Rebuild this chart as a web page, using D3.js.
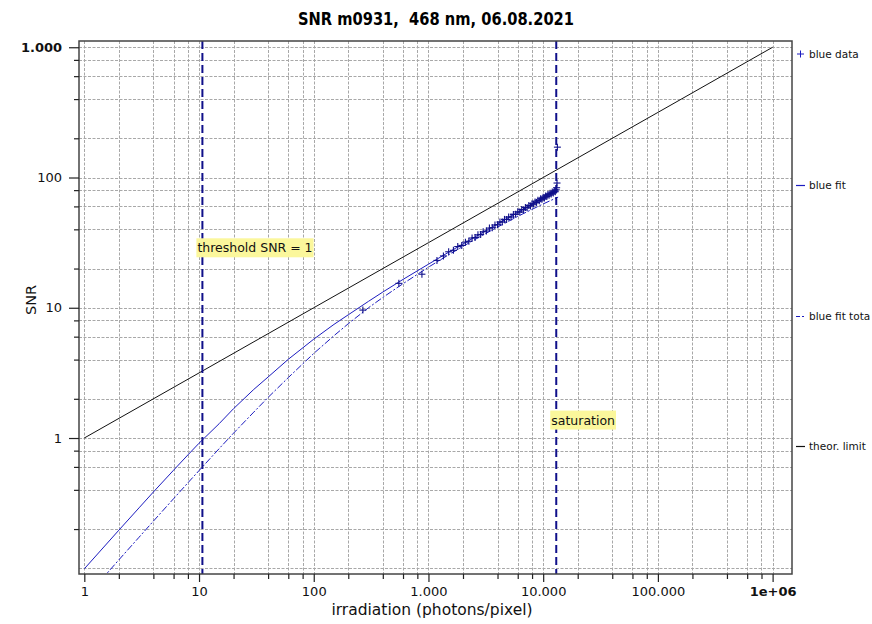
<!DOCTYPE html>
<html>
<head>
<meta charset="utf-8">
<script src="https://cdn.jsdelivr.net/npm/d3@7"></script>
<style>
  body { margin: 0; background: #fff; }
  svg { display: block; font-family: "DejaVu Sans", Verdana, sans-serif; }
</style>
</head>
<body>
<svg id="chart" width="872" height="624"></svg>
<script>
// ---- data ----
const titleText = "SNR m0931,  468 nm, 06.08.2021";

// measured points (irradiation, SNR)
const dataX = [268, 552, 877, 1186, 1350, 1500, 1650, 1800, 1950, 2100, 2250, 2400, 2550, 2700,
  2850, 3000, 3200, 3400, 3600, 3800, 4000, 4200, 4400, 4600, 4800, 5000, 5250, 5500, 5750,
  6000, 6250, 6500, 6750, 7000, 7250, 7500, 7750, 8000, 8250, 8500, 8750, 9000, 9250, 9500,
  9750, 10000, 10250, 10500, 10750, 11000, 11250, 11500, 11750, 12000, 12250, 12500, 12750,
  13000, 13100, 13200, 13300];
const dataY = [9.6, 15.4, 18.1, 23.1, 25.0, 26.9, 27.6, 29.5, 30.1, 31.9, 32.4, 34.3, 34.6, 36.3,
  36.5, 38.3, 38.8, 40.9, 41.2, 43.2, 43.4, 45.5, 45.6, 47.7, 47.6, 49.7, 49.8, 52.1, 52.2,
  54.5, 54.3, 56.8, 56.5, 58.8, 58.6, 61.0, 60.5, 62.9, 62.5, 65.0, 64.4, 66.8, 66.2, 68.7,
  68.0, 70.5, 69.7, 72.2, 71.4, 74.0, 73.1, 75.7, 74.8, 77.3, 76.2, 78.9, 77.8, 80.4, 83.5,
  90.7, 171];

// blue fit (solid)
const fitX = [1, 2, 3, 4, 6, 8, 10, 15, 20, 30, 40, 60, 100, 150, 200, 300, 400, 600, 1000,
  1500, 2000, 3000, 4000, 6000, 10000, 13500];
const fitY = [0.099, 0.196, 0.291, 0.385, 0.566, 0.742, 0.912, 1.29, 1.68, 2.36, 2.94, 4.02, 5.74,
  7.45, 8.83, 11.2, 13.2, 16.5, 21.6, 26.7, 30.9, 38.0, 44.0, 54.0, 69.8, 81.2];

// blue fit total (dash-dot)
const fitTotX = [1, 2, 3, 4, 6, 8, 10, 15, 20, 30, 40, 60, 100, 150, 200, 300, 400, 600, 1000,
  1500, 2000, 3000, 4000, 6000, 10000, 13500];
const fitTotY = [0.058, 0.116, 0.173, 0.230, 0.342, 0.453, 0.562, 0.83, 1.09, 1.58, 2.05, 2.91, 4.46,
  6.10, 7.54, 10.0, 12.0, 15.3, 20.5, 25.5, 29.6, 36.3, 41.6, 50.3, 62.7, 70.7];

// theoretical limit
const theoX = [1, 10, 100, 1000, 10000, 100000, 1000000];
const theoY = [1, 3.16, 10, 31.6, 100, 316, 1000];

// markers
const thresholdX = 10.7;
const saturationX = 13000;

const xMajor = [1, 10, 100, 1000, 10000, 100000, 1000000];
const xLabels = ["1", "10", "100", "1.000", "10.000", "100.000", "1e+06"];
const yMajor = [1, 10, 100, 1000];
const yLabels = ["1", "10", "100", "1.000"];
const minorMult = [2, 4, 6, 8];

const legendNames = ["blue data", "blue fit", "blue fit tota", "theor. limit"];

// ---- layout ----
const svg = d3.select("#chart");
const L = 79, R = 792, T = 41, B = 574;
const blue = "#1c1cc0", navy = "#10108a";

const x = d3.scaleLog().domain([Math.pow(10, -0.0463), Math.pow(10, 6.169)]).range([L, R]);
const y = d3.scaleLog().domain([Math.pow(10, -1.044), Math.pow(10, 3.048)]).range([B, T]);

function minors(majors) {
  const out = [];
  majors.forEach(m => minorMult.forEach(k => out.push(m * k)));
  return out;
}
const xMinor = minors([1, 10, 100, 1000, 10000, 100000]);
const yMinor = minors([0.1, 1, 10, 100]);

// grid
const grid = svg.append("g").attr("stroke", "#a8a8a8").attr("stroke-dasharray", "3,1.5").attr("stroke-width", 1);
xMajor.concat(xMinor).forEach(v => {
  grid.append("line").attr("x1", Math.round(x(v)) + 0.5).attr("x2", Math.round(x(v)) + 0.5).attr("y1", T).attr("y2", B);
});
[0.1].concat(yMajor, yMinor).forEach(v => {
  grid.append("line").attr("y1", Math.round(y(v)) + 0.5).attr("y2", Math.round(y(v)) + 0.5).attr("x1", L).attr("x2", R);
});

// clip
svg.append("clipPath").attr("id", "plot").append("rect")
  .attr("x", L).attr("y", T).attr("width", R - L).attr("height", B - T);
const plot = svg.append("g").attr("clip-path", "url(#plot)");

const line = d3.line().x(d => x(d[0])).y(d => y(d[1]));

plot.append("path").datum(theoX.map((v, i) => [v, theoY[i]]))
  .attr("d", line).attr("fill", "none").attr("stroke", "#111").attr("stroke-width", 1);
plot.append("path").datum(fitX.map((v, i) => [v, fitY[i]]))
  .attr("d", line).attr("fill", "none").attr("stroke", blue).attr("stroke-width", 1);
plot.append("path").datum(fitTotX.map((v, i) => [v, fitTotY[i]]))
  .attr("d", line).attr("fill", "none").attr("stroke", blue)
  .attr("stroke-width", 1).attr("stroke-dasharray", "7,2,2,2");

// data crosses
const pts = plot.append("g").attr("stroke", navy).attr("stroke-width", 1.1);
dataX.forEach((v, i) => {
  const cx = x(v), cy = y(dataY[i]);
  pts.append("line").attr("x1", cx - 3.5).attr("x2", cx + 3.5).attr("y1", cy).attr("y2", cy);
  pts.append("line").attr("x1", cx).attr("x2", cx).attr("y1", cy - 3.5).attr("y2", cy + 3.5);
});

// vertical markers
[thresholdX, saturationX].forEach(v => {
  plot.append("line").attr("x1", x(v)).attr("x2", x(v)).attr("y1", T).attr("y2", B)
    .attr("stroke", navy).attr("stroke-width", 2).attr("stroke-dasharray", "8,4");
});

// annotation labels
function note(xv, yv, txt) {
  const g = svg.append("g");
  const rect = g.append("rect").attr("fill", "#fbf79c");
  const t = g.append("text").attr("x", x(xv) - 5).attr("y", y(yv)).attr("dy", "0.35em")
    .attr("font-size", 12.5).attr("fill", "#111").text(txt);
  const bb = t.node().getBBox();
  rect.attr("x", bb.x - 1).attr("y", bb.y - 2).attr("width", bb.width + 2).attr("height", bb.height + 4);
}
note(thresholdX, 28.8, "threshold SNR = 1");
note(saturationX, 1.37, "saturation");

// frame
svg.append("rect").attr("x", L).attr("y", T).attr("width", R - L).attr("height", B - T)
  .attr("fill", "none").attr("stroke", "#444").attr("stroke-width", 1.5);

// axes
const fmtX = v => xLabels[xMajor.indexOf(v)];
const fmtY = v => yLabels[yMajor.indexOf(v)];
const xAx = svg.append("g").attr("transform", `translate(0,${B})`)
  .call(d3.axisBottom(x).tickValues(xMajor).tickFormat(fmtX).tickSize(8).tickPadding(5).tickSizeOuter(0));
svg.append("g").attr("transform", `translate(0,${B})`)
  .call(d3.axisBottom(x).tickValues(xMinor).tickFormat("").tickSize(5).tickSizeOuter(0));
const yAx = svg.append("g").attr("transform", `translate(${L},0)`)
  .call(d3.axisLeft(y).tickValues(yMajor).tickFormat(fmtY).tickSize(10).tickSizeOuter(0));
svg.append("g").attr("transform", `translate(${L},0)`)
  .call(d3.axisLeft(y).tickValues(yMinor).tickFormat("").tickSize(5).tickSizeOuter(0));
svg.selectAll(".domain").remove();
svg.selectAll(".tick line").attr("stroke", "#222").attr("stroke-width", 1.2);
xAx.selectAll("text").attr("font-size", 13).attr("fill", "#111").attr("font-family", "DejaVu Sans");
yAx.selectAll("text").attr("font-size", 13).attr("fill", "#111").attr("font-family", "DejaVu Sans").attr("dx", "-0.3em");
xAx.selectAll(".tick text").filter(v => v === 1000000).attr("font-weight", "bold");
yAx.selectAll(".tick text").filter(v => v === 1000).attr("font-weight", "bold");

// titles
svg.append("text").attr("x", 436).attr("y", 25).attr("text-anchor", "middle")
  .attr("font-size", 17.5).attr("font-weight", "bold").style("white-space", "pre")
  .attr("textLength", 276).attr("lengthAdjust", "spacingAndGlyphs").text(titleText);
svg.append("text").attr("x", 432).attr("y", 615).attr("text-anchor", "middle")
  .attr("font-size", 15.5).attr("fill", "#111").text("irradiation (photons/pixel)");
svg.append("text").attr("transform", "translate(36,300) rotate(-90)").attr("text-anchor", "middle")
  .attr("font-size", 14.5).attr("fill", "#111").text("SNR");

// legend
const legY = [54, 185, 316, 446];
const leg = svg.append("g");
legendNames.forEach((name, i) => {
  const ly = legY[i];
  if (i === 0) {
    leg.append("line").attr("x1", 797).attr("x2", 804).attr("y1", ly).attr("y2", ly).attr("stroke", blue);
    leg.append("line").attr("x1", 800.5).attr("x2", 800.5).attr("y1", ly - 3.5).attr("y2", ly + 3.5).attr("stroke", blue);
  } else {
    leg.append("line").attr("x1", 796).attr("x2", 805).attr("y1", ly + 0.5).attr("y2", ly + 0.5)
      .attr("stroke", i === 3 ? "#111" : blue).attr("stroke-width", 1.2)
      .attr("stroke-dasharray", i === 2 ? "4,2,2,2" : null);
  }
  leg.append("text").attr("x", 809).attr("y", ly).attr("dy", "0.35em")
    .attr("font-size", 10.5).attr("fill", "#111").text(name);
});
</script>
</body>
</html>
